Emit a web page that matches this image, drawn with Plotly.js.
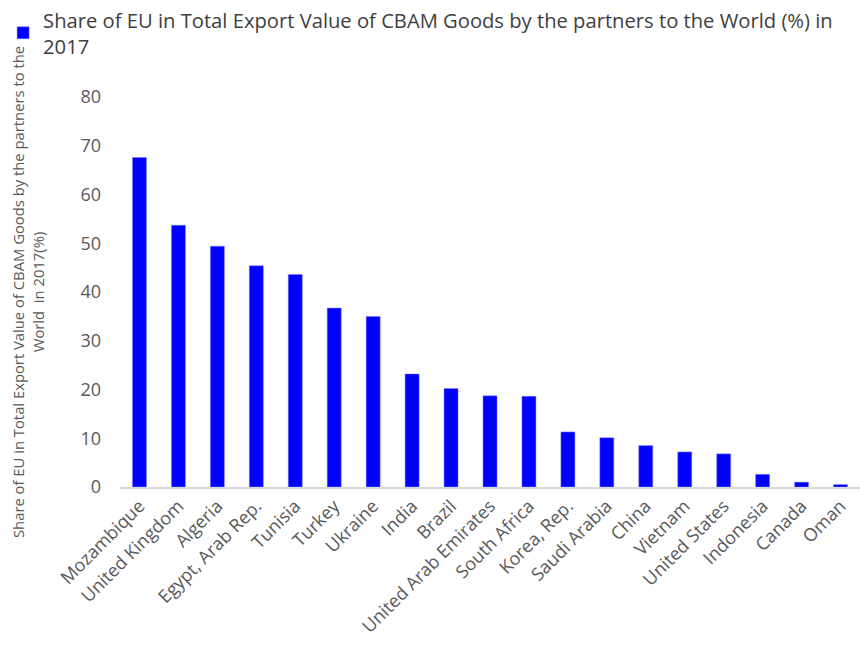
<!DOCTYPE html>
<html>
<head>
<meta charset="utf-8">
<script src="https://cdn.plot.ly/plotly-3.0.1.min.js"></script>
<style>html,body{margin:0;padding:0;background:#fff;}#chart{width:860px;height:651px;}</style>
</head>
<body>
<div id="chart"></div>
<script>
const countries = ["Mozambique","United Kingdom","Algeria","Egypt, Arab Rep.","Tunisia","Turkey","Ukraine","India","Brazil","United Arab Emirates","South Africa","Korea, Rep.","Saudi Arabia","China","Vietnam","United States","Indonesia","Canada","Oman"];
const shareEU = [67.6,53.7,49.4,45.4,43.6,36.7,35.0,23.2,20.2,18.7,18.6,11.3,10.1,8.5,7.2,6.8,2.6,1.0,0.5];
const seriesName = "Share of EU in Total Export Value of CBAM Goods by the partners to the World (%) in<br>2017";
const yTitle = "Share of EU in Total Export Value of CBAM Goods by the partners to the<br>World  in 2017(%)";
const yTicks = [0,10,20,30,40,50,60,70,80];

const trace = {
  type: "bar",
  x: countries,
  y: shareEU,
  name: seriesName,
  marker: {color: "#0000FF", line: {color: "#8080ff", width: 0.5}},
  showlegend: true
};

const layout = {
  width: 860, height: 651,
  margin: {l: 120, r: 0, t: 97, b: 164},
  paper_bgcolor: "#ffffff",
  plot_bgcolor: "#ffffff",
  font: {family: "Open Sans, sans-serif", color: "#595959"},
  bargap: 0.64,
  showlegend: true,
  legend: {
    x: -0.158, xanchor: "left", y: 1.25, yanchor: "top",
    orientation: "h",
    font: {size: 20.2, color: "#404040", family: "Open Sans, sans-serif"},
    itemwidth: 30,
    bgcolor: "rgba(0,0,0,0)"
  },
  xaxis: {
    type: "category",
    tickangle: -45,
    tickfont: {size: 18, color: "#595959"},
    showline: true, linecolor: "#d9d9d9", linewidth: 1.5,
    showgrid: false, ticks: "", zeroline: false
  },
  yaxis: {
    range: [0, 80],
    tickvals: yTicks,
    ticktext: yTicks.map(String),
    tickfont: {size: 18, color: "#595959"},
    showgrid: false, zeroline: false, showline: false, ticks: "",
    ticklabelstandoff: 18,
    title: {text: yTitle, font: {size: 14.8, color: "#595959"}, standoff: 32}
  }
};

Plotly.newPlot("chart", [trace], layout, {displayModeBar: false, staticPlot: true});
</script>
</body>
</html>
